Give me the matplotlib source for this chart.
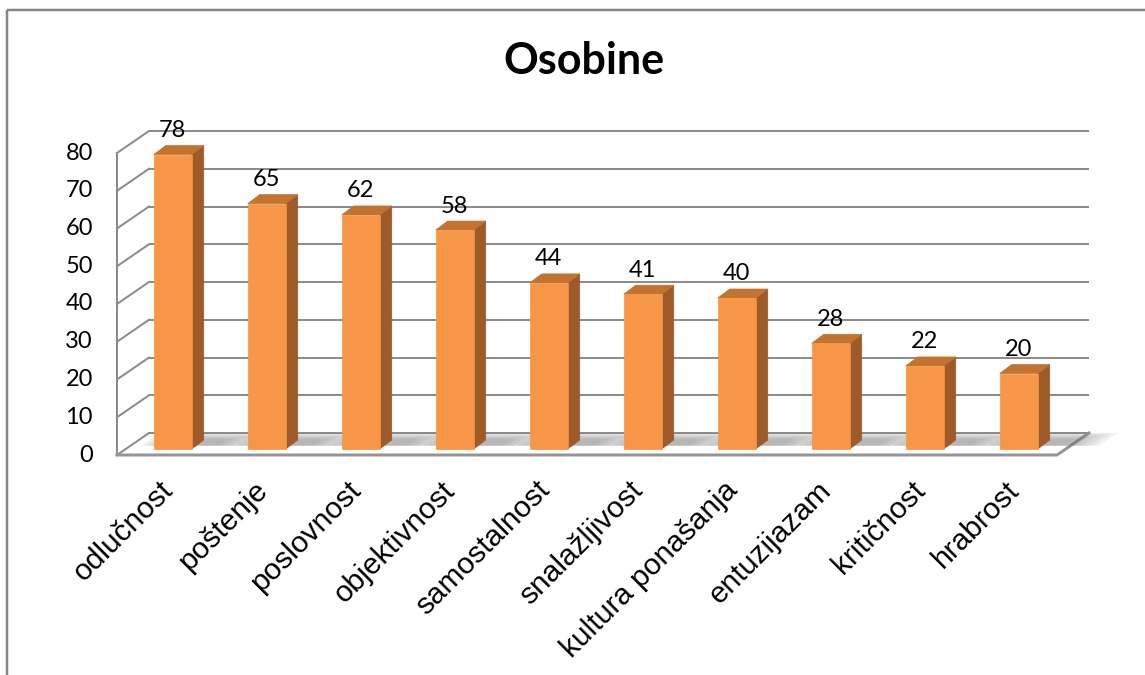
import matplotlib
matplotlib.use('Agg')
import matplotlib.pyplot as plt
from matplotlib.patches import Polygon
import numpy as np

# ---------------- data ----------------
categories = ['odlučnost', 'poštenje', 'poslovnost', 'objektivnost', 'samostalnost',
              'snalažljivost', 'kultura ponašanja', 'entuzijazam', 'kritičnost', 'hrabrost']
values = [78, 65, 62, 58, 44, 41, 40, 28, 22, 20]
y_ticks = [0, 10, 20, 30, 40, 50, 60, 70, 80]
title = 'Osobine'

# ---------------- styling ----------------
C_FRONT = '#F79646'
C_SIDE = '#9E5B2A'
C_TOP = '#C1732F'
C_GRID = '#8C8C8C'
NUM_FONT = ['Lato', 'DejaVu Sans']
LBL_FONT = ['Liberation Sans', 'DejaVu Sans']

W, H = 1145, 675
fig = plt.figure(figsize=(W / 100, H / 100), dpi=100)
ax = fig.add_axes([0, 0, 1, 1])
ax.axis('off')

# front plane geometry (pixel layout)
X_FRONT_LEFT = 117.0
CAT_PX = 94.0
Y_FRONT_ZERO = 455.0
VAL_PX = 3.775
ax.set_xlim(-0.5 - X_FRONT_LEFT / CAT_PX, -0.5 + (W - X_FRONT_LEFT) / CAT_PX)
ax.set_ylim(-(H - Y_FRONT_ZERO) / VAL_PX, Y_FRONT_ZERO / VAL_PX)


def dx_px(p):
    return p / CAT_PX


def dy_px(p):
    return p / VAL_PX


WALL_D = (dx_px(32), dy_px(22))          # depth vector of the whole box
BAR_T0 = 6.0 / 22.0                       # depth of bar front faces
BAR_D = (dx_px(12), dy_px(9))             # depth of a bar
BAR_W = dx_px(38)


def depth(x, y, t):
    return (x + t * WALL_D[0], y + t * WALL_D[1])


n = len(categories)
x_left, x_right = -0.5, n - 0.5
vmax = y_ticks[-1]
px_lw = 0.72

# ---------------- floor ----------------
floor = Polygon([depth(x_left, 0, 0), depth(x_right, 0, 0), depth(x_right, 0, 1), depth(x_left, 0, 1)],
                closed=True, facecolor='white', edgecolor='none', zorder=1)
ax.add_patch(floor)

# back wall gridlines
for v in y_ticks:
    a = depth(x_left, v, 1)
    b = depth(x_right, v, 1)
    ax.plot([a[0], b[0]], [a[1], b[1]], color=C_GRID, lw=2 * px_lw, zorder=2, solid_capstyle='butt')
    c = depth(x_left, v, 0)
    ax.plot([c[0], a[0]], [c[1], a[1]], color=C_GRID, lw=2 * px_lw, zorder=2)
# left front vertical
ax.plot([x_left, x_left], [0, vmax], color=C_GRID, lw=2 * px_lw, zorder=2)

# floor front and right edges
f0 = depth(x_left, 0, 0)
f1 = depth(x_right, 0, 0)
f2 = depth(x_right, 0, 1)
ax.plot([f0[0], f1[0], f2[0]], [f0[1], f1[1], f2[1]], color='#959595', lw=3 * px_lw, zorder=3,
        solid_joinstyle='miter')

# ---------------- shadows ----------------
for i, v in enumerate(values):
    cx = i + BAR_T0 * WALL_D[0]
    for k in range(7):
        grow = (6 - k) / 6.0
        xl = cx - BAR_W / 2 - dx_px(4 + 22 * grow)
        xr = cx + BAR_W / 2 + dx_px(14 + 34 * grow)
        t_a = BAR_T0 + 0.15
        t_b = min(1.0, BAR_T0 + 0.45 + 0.3 * grow)
        pts = [depth(xl, 0, t_a), depth(xr, 0, t_a), depth(xr, 0, t_b), depth(xl, 0, t_b)]
        ax.add_patch(Polygon(pts, closed=True, facecolor='#6e6e6e', edgecolor='none',
                             alpha=0.09, zorder=3))

# ---------------- bars ----------------
for i, v in enumerate(values):
    cx = i + BAR_T0 * WALL_D[0]
    by = BAR_T0 * WALL_D[1]
    l, r = cx - BAR_W / 2, cx + BAR_W / 2
    front = [(l, by), (r, by), (r, by + v), (l, by + v)]
    side = [(r, by), (r + BAR_D[0], by + BAR_D[1]), (r + BAR_D[0], by + v + BAR_D[1]), (r, by + v)]
    top = [(l, by + v), (r, by + v), (r + BAR_D[0], by + v + BAR_D[1]), (l + BAR_D[0], by + v + BAR_D[1])]
    ax.add_patch(Polygon(side, closed=True, facecolor=C_SIDE, edgecolor=C_SIDE, lw=0.5, zorder=5))
    ax.add_patch(Polygon(top, closed=True, facecolor=C_TOP, edgecolor=C_TOP, lw=0.5, zorder=5))
    ax.add_patch(Polygon(front, closed=True, facecolor=C_FRONT, edgecolor=C_FRONT, lw=0.5, zorder=6))
    ax.text(cx, by + v + dy_px(24), str(v), ha='center', va='center', fontsize=17,
            family=NUM_FONT, color='black', zorder=7)

# ---------------- axis labels ----------------
for v in y_ticks:
    ax.text(x_left - dx_px(24), v, str(v), ha='right', va='center', fontsize=17,
            family=NUM_FONT, color='black')

for i, c in enumerate(categories):
    ax.text(i - dx_px(5), -dy_px(21), c, ha='right', va='top', rotation=45,
            rotation_mode='anchor', fontsize=21.5, family=LBL_FONT, color='black')

# title
ax.text(-0.5 + (584 - X_FRONT_LEFT) / CAT_PX, (Y_FRONT_ZERO - 61) / VAL_PX, title,
        ha='center', va='center', fontsize=31, fontweight='bold', family=NUM_FONT)

# chart frame (top and left borders)
tl = (-0.5 + (7 - X_FRONT_LEFT) / CAT_PX, (Y_FRONT_ZERO - 10) / VAL_PX)
ax.plot([tl[0], ax.get_xlim()[1]], [tl[1], tl[1]], color='#868686', lw=2.5 * px_lw, zorder=8,
        solid_capstyle='butt')
ax.plot([tl[0], tl[0]], [tl[1], ax.get_ylim()[0]], color='#868686', lw=2.5 * px_lw, zorder=8,
        solid_capstyle='butt')

fig.savefig('out.png', dpi=100, facecolor='white')
